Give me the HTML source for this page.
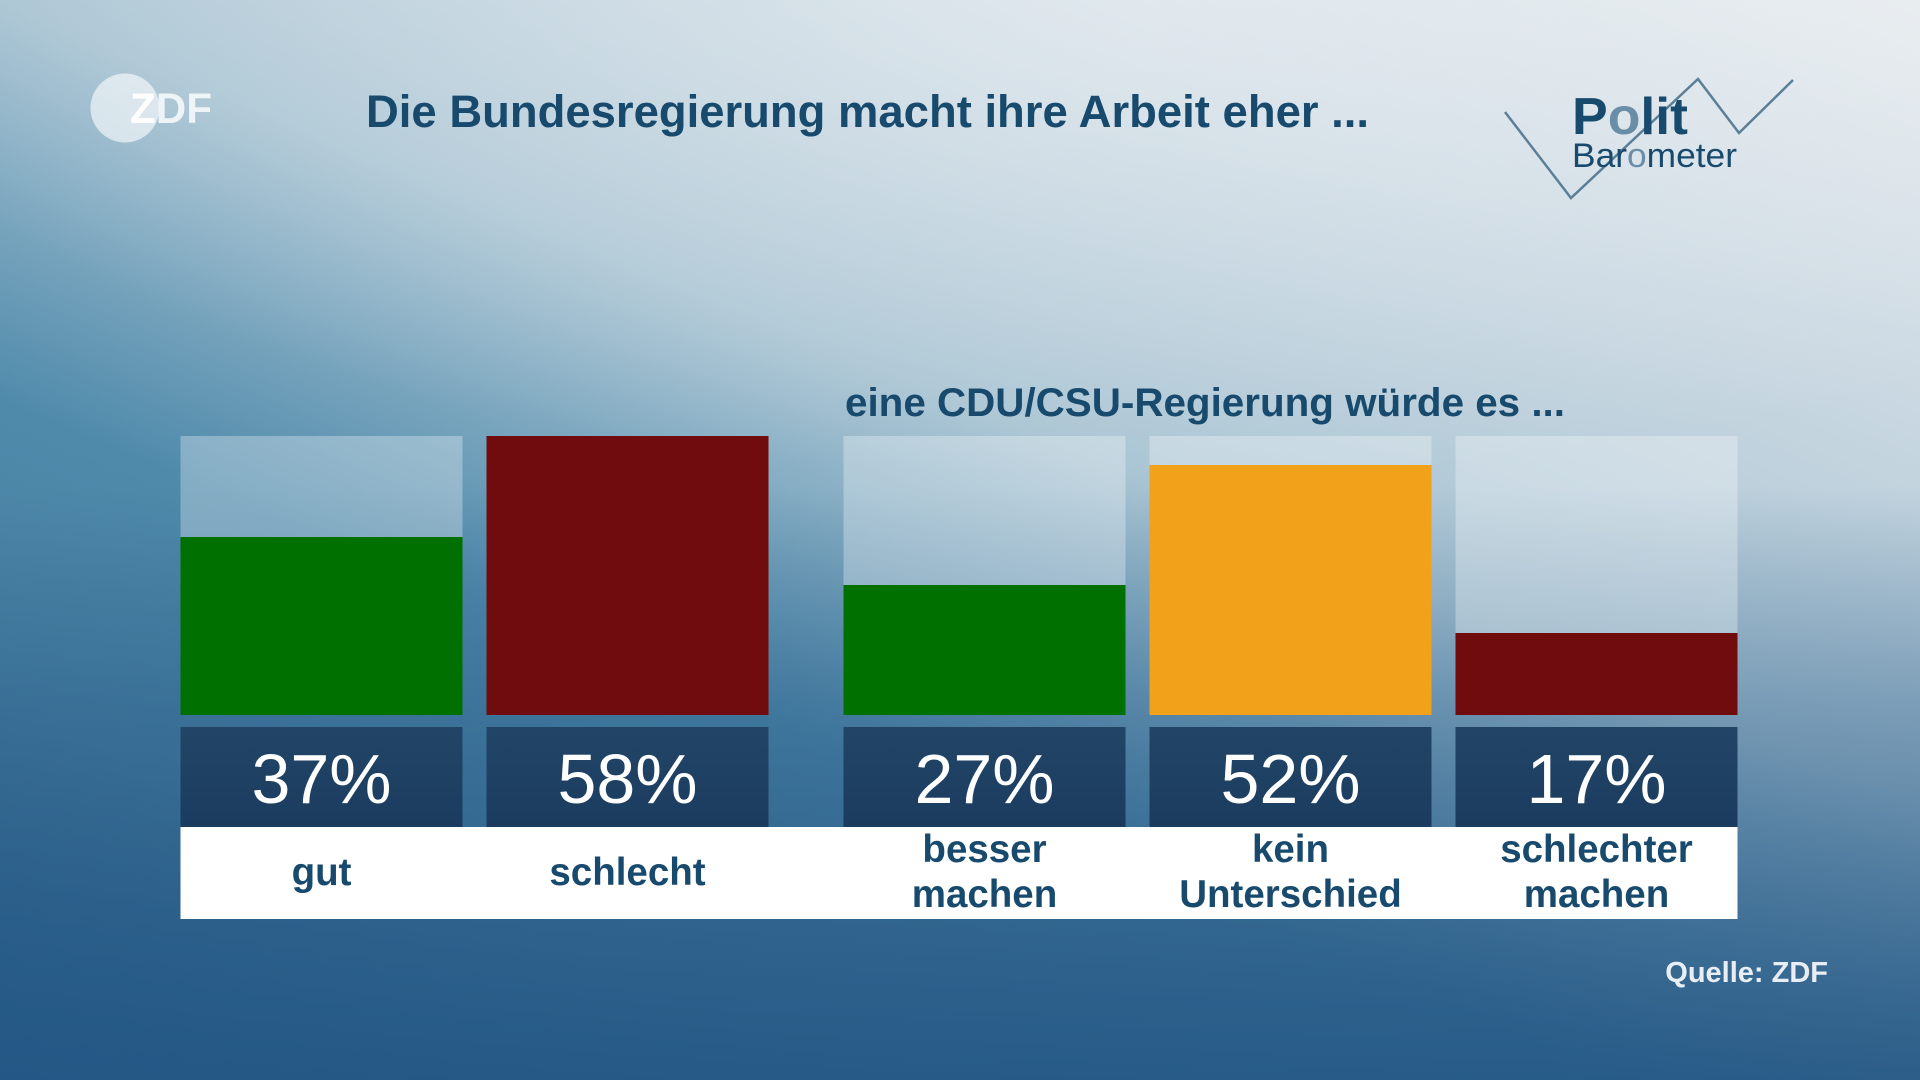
<!DOCTYPE html>
<html>
<head>
<meta charset="utf-8">
<style>
  html, body { margin:0; padding:0; }
  body { width:1920px; height:1080px; overflow:hidden; position:relative;
    background:
      radial-gradient(ellipse 1300px 480px at 1150px 0px, rgba(236,241,244,0.6) 0%, rgba(236,241,244,0.3) 50%, rgba(236,241,244,0) 100%),
      linear-gradient(180deg, rgba(35,85,131,0) 45%, rgba(35,85,131,0.37) 65%, rgba(35,85,131,0.88) 100%),
      linear-gradient(22.6deg, #2e6690 0%, #477fa1 20%, #4f8aab 36%, #a9c4d3 57.4%, #cad8e2 78.7%, #e8ecef 100%);
  }
  svg { position:absolute; left:0; top:0; }
  text { font-family: "Liberation Sans", "DejaVu Sans", sans-serif; }
</style>
</head>
<body>
<svg width="1920" height="1080" viewBox="0 0 1920 1080" xmlns="http://www.w3.org/2000/svg">
  <defs>
    <linearGradient id="nav" x1="0" y1="0" x2="0" y2="1">
      <stop offset="0" stop-color="#224566"/>
      <stop offset="1" stop-color="#1b3c60"/>
    </linearGradient>
  </defs>

  <!-- ZDF logo -->
  <circle cx="125" cy="108" r="34.5" fill="#ffffff" fill-opacity="0.6"/>
  <text x="130" y="123" font-size="43" font-weight="bold" textLength="82" lengthAdjust="spacingAndGlyphs"><tspan fill="#ffffff">Z</tspan><tspan fill="#ffffff" fill-opacity="0.8">DF</tspan></text>

  <!-- Title -->
  <text x="366" y="127" font-size="45" font-weight="bold" fill="#184a6e" textLength="1003" lengthAdjust="spacingAndGlyphs">Die Bundesregierung macht ihre Arbeit eher ...</text>

  <!-- Politbarometer logo -->
  <polyline points="1505,112 1571,198 1698,79 1739,133 1793,80" fill="none" stroke="#5b7f97" stroke-width="2.5"/>
  <text x="1572" y="134" font-size="52" font-weight="bold" fill="#184a6e" textLength="116" lengthAdjust="spacingAndGlyphs">P<tspan fill="#6a8ea8">o</tspan>lit</text>
  <text x="1572" y="167" font-size="34" fill="#184a6e" textLength="165" lengthAdjust="spacingAndGlyphs">Bar<tspan fill="#6a8ea8">o</tspan>meter</text>

  <!-- Subtitle -->
  <text x="845" y="416" font-size="40" font-weight="bold" fill="#184a6e" textLength="720" lengthAdjust="spacingAndGlyphs">eine CDU/CSU-Regierung würde es ...</text>

  <!-- Bar backgrounds -->
  <g fill="#ffffff" fill-opacity="0.3">
    <rect x="180.5" y="436" width="282" height="279"/>
    <rect x="486.5" y="436" width="282" height="279"/>
    <rect x="843.5" y="436" width="282" height="279"/>
    <rect x="1149.5" y="436" width="282" height="279"/>
    <rect x="1455.5" y="436" width="282" height="279"/>
  </g>
  <!-- Bars -->
  <rect x="180.5" y="537" width="282" height="178" fill="#007000"/>
  <rect x="486.5" y="436" width="282" height="279" fill="#700c0e"/>
  <rect x="843.5" y="585" width="282" height="130" fill="#007000"/>
  <rect x="1149.5" y="465" width="282" height="250" fill="#f1a11a"/>
  <rect x="1455.5" y="633" width="282" height="82" fill="#700c0e"/>

  <!-- Percent boxes -->
  <g fill="url(#nav)">
    <rect x="180.5" y="727" width="282" height="100"/>
    <rect x="486.5" y="727" width="282" height="100"/>
    <rect x="843.5" y="727" width="282" height="100"/>
    <rect x="1149.5" y="727" width="282" height="100"/>
    <rect x="1455.5" y="727" width="282" height="100"/>
  </g>
  <g font-size="70" fill="#ffffff" text-anchor="middle">
    <text x="321.5" y="803">37%</text>
    <text x="627.5" y="803">58%</text>
    <text x="984.5" y="803">27%</text>
    <text x="1290.5" y="803">52%</text>
    <text x="1596.5" y="803">17%</text>
  </g>

  <!-- White label band -->
  <rect x="180.5" y="827" width="1557" height="92" fill="#ffffff"/>
  <g font-size="38.5" font-weight="bold" fill="#184a6e" text-anchor="middle">
    <text x="321.5" y="885">gut</text>
    <text x="627.5" y="885">schlecht</text>
    <text x="984.5" y="862">besser</text>
    <text x="984.5" y="907">machen</text>
    <text x="1290.5" y="862">kein</text>
    <text x="1290.5" y="907">Unterschied</text>
    <text x="1596.5" y="862">schlechter</text>
    <text x="1596.5" y="907">machen</text>
  </g>

  <!-- Source -->
  <text x="1828" y="982" font-size="29" font-weight="bold" fill="#e8eef3" text-anchor="end">Quelle: ZDF</text>
</svg>
</body>
</html>
